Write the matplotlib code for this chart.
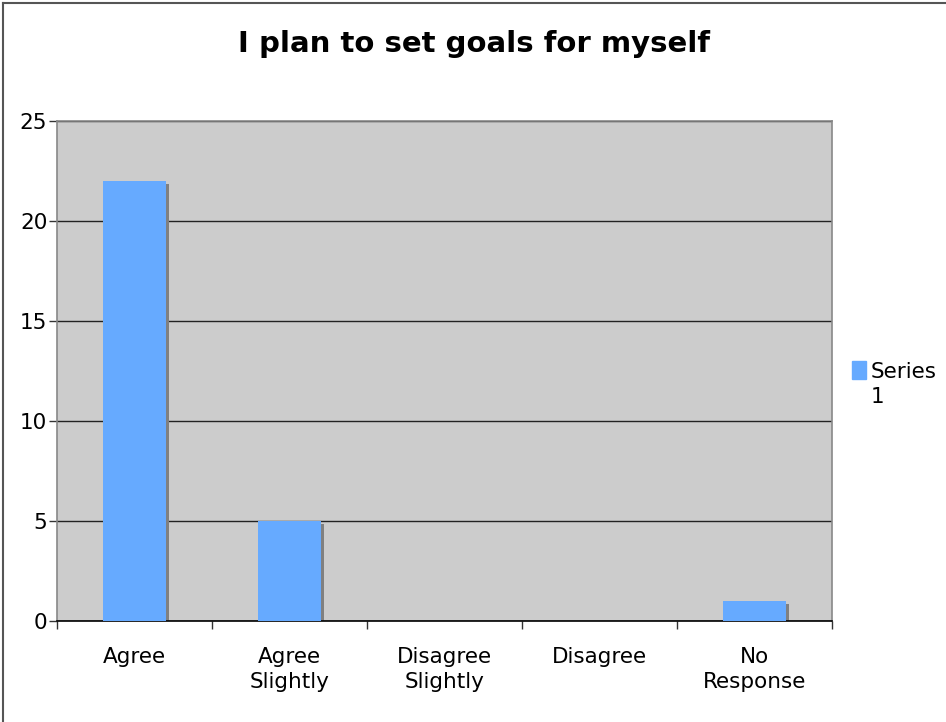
import matplotlib
matplotlib.use("Agg")
import matplotlib.pyplot as plt
from matplotlib.patches import Rectangle
import matplotlib.transforms as mtransforms

categories = ["Agree", "Agree\nSlightly", "Disagree\nSlightly", "Disagree", "No\nResponse"]
values = [22, 5, 0, 0, 1]
series_name = "Series\n1"
yticks = [0, 5, 10, 15, 20, 25]

W, H = 946, 722
fig = plt.figure(figsize=(W / 100, H / 100), dpi=100)
fig.patch.set_facecolor("white")

# plot area in pixel coordinates
left, right, top, bottom = 57, 832, 121, 621
ax = fig.add_axes([left / W, 1 - bottom / H, (right - left) / W, (bottom - top) / H])
ax.set_facecolor("#cccccc")

x = list(range(len(categories)))
bar_w = 0.41
shadow = mtransforms.offset_copy(ax.transData, fig=fig, x=3, y=-3, units="dots")
for xi, v in zip(x, values):
    if v > 0:
        ax.bar(xi, v, width=bar_w, color="#808080", transform=shadow, zorder=2)
ax.bar(x, values, width=bar_w, color="#66aaff", zorder=3)

ax.set_xlim(-0.5, len(categories) - 0.5)
ax.set_ylim(0, 25)
ax.set_yticks(yticks)
ax.set_yticklabels([str(t) for t in yticks], fontsize=15.5)
ax.yaxis.grid(True, color="#222222", linewidth=1.0, zorder=1)
ax.set_axisbelow(True)

ax.set_xticks([i - 0.5 for i in range(len(categories) + 1)])
ax.set_xticklabels([])
ax.tick_params(axis="x", length=6, width=1, color="#333333", direction="out")
ax.tick_params(axis="y", length=6, width=1, color="#333333", direction="out", pad=1)

# category labels, all aligned at their first line
for i, lab in enumerate(categories):
    ax.annotate(lab, xy=(i, 0), xycoords=("data", "axes fraction"),
                xytext=(0, -19), textcoords="offset points",
                ha="center", va="top", fontsize=15.5, linespacing=1.3)

for s in ["top", "right", "left"]:
    ax.spines[s].set_color("#888888")
    ax.spines[s].set_linewidth(1.2)
ax.spines["bottom"].set_color("#000000")
ax.spines["bottom"].set_linewidth(1.2)

fig.text(474 / W, 1 - 44 / H, "I plan to set goals for myself", ha="center", va="center",
         fontsize=21, fontweight="bold")

# legend
fig.patches.append(Rectangle((852 / W, 1 - 379 / H), 14 / W, 18 / H,
                             transform=fig.transFigure, color="#66aaff"))
fig.text(871 / W, 1 - 362 / H, series_name, ha="left", va="top", fontsize=15.5,
         linespacing=1.3)

# outer frame
fig.add_artist(plt.Line2D([2.5 / W, 2.5 / W], [0, 1 - 2.5 / H], color="#555555", linewidth=1.5,
                          transform=fig.transFigure))
fig.add_artist(plt.Line2D([2.5 / W, 1], [1 - 2.5 / H, 1 - 2.5 / H], color="#555555", linewidth=1.5,
                          transform=fig.transFigure))

fig.savefig("out.png", dpi=100)
